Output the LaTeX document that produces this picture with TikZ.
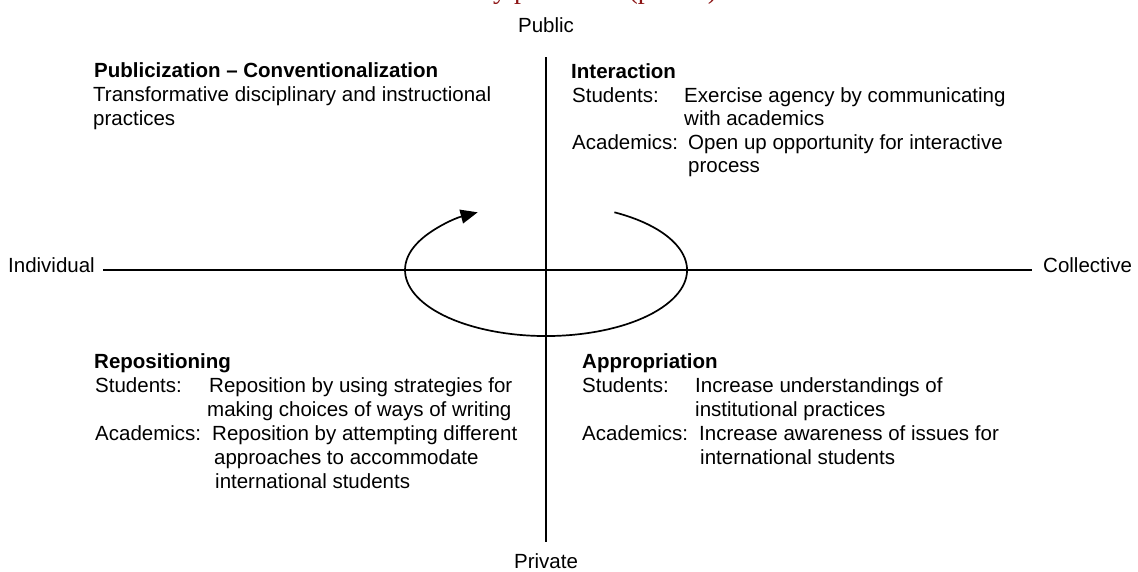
\documentclass[tikz,border=0pt]{standalone}
\usepackage{fontspec}
\setmainfont{Liberation Sans}
\newfontfamily\tnrfont{Liberation Serif}
\usetikzlibrary{arrows.meta}
\definecolor{capred}{RGB}{140,20,20}
\begin{document}
\begin{tikzpicture}[x=1pt,y=1pt,
  lbl/.style={inner sep=0pt, anchor=mid west, font=\fontsize{20.5}{24}\selectfont},
  hd/.style={lbl, font=\fontsize{20.5}{24}\selectfont\bfseries},
  axislab/.style={inner sep=0pt, font=\fontsize{20.5}{24}\selectfont},
  axisline/.style={line width=1.7pt},
  cyc/.style={line width=1.7pt, -{Triangle[length=17pt,width=14pt]}}]
\useasboundingbox (0,0) rectangle (1138,-571);
% clipped caption remnant at the top
\begin{scope}
\clip (0,0) rectangle (1138,-10);
\node[font=\tnrfont\fontsize{28}{30}\selectfont, text=capred, anchor=base west, inner sep=0pt] (cap) at (493,1.5) {y processes (p.~123)};
\end{scope}
% axis labels
\node[axislab] (pub) at (546,-25) {Public};
\node[axislab] (priv) at (546,-561) {Private};
\node[axislab, anchor=mid east] (ind) at (95,-270) {Individual};
\node[axislab, anchor=mid west] (col) at (1043,-270) {Collective};
% axes
\coordinate (hl) at (103,-270);
\coordinate (hr) at (1032,-270);
\coordinate (vt) at (546,-57);
\coordinate (vb) at (546,-542);
\draw[axisline] (hl) -- (hr);
\draw[axisline] (vt) -- (vb);
% cycle
\coordinate (cs) at (614.4,-212.3);
\draw[cyc] (cs) arc[start angle=61, end angle=-241, x radius=141, y radius=66];
% upper left
\node[hd] (ulh) at (94,-75) {Publicization – Conventionalization};
\node[lbl] (ul1) at (93,-99) {Transformative disciplinary and instructional};
\node[lbl] (ul2) at (93,-123) {practices};
% upper right
\node[hd] (urh) at (571,-76) {Interaction};
\node[lbl] (urs) at (572,-100) {Students:};
\node[lbl] (urs1) at (684,-100) {Exercise agency by communicating};
\node[lbl] (urs2) at (684,-123) {with academics};
\node[lbl] (ura) at (572,-147) {Academics:};
\node[lbl] (ura1) at (688,-147) {Open up opportunity for interactive};
\node[lbl] (ura2) at (688,-170) {process};
% lower left
\node[hd] (llh) at (94,-366) {Repositioning};
\node[lbl] (lls) at (95,-390) {Students:};
\node[lbl] (lls1) at (209,-390) {Reposition by using strategies for};
\node[lbl] (lls2) at (207,-414) {making choices of ways of writing};
\node[lbl] (lla) at (95,-438) {Academics:};
\node[lbl] (lla1) at (212,-438) {Reposition by attempting different};
\node[lbl] (lla2) at (214,-462) {approaches to accommodate};
\node[lbl] (lla3) at (215,-486) {international students};
% lower right
\node[hd] (lrh) at (582,-366) {Appropriation};
\node[lbl] (lrs) at (582,-390) {Students:};
\node[lbl] (lrs1) at (695,-390) {Increase understandings of};
\node[lbl] (lrs2) at (695,-414) {institutional practices};
\node[lbl] (lra) at (582,-438) {Academics:};
\node[lbl] (lra1) at (699,-438) {Increase awareness of issues for};
\node[lbl] (lra2) at (700,-462) {international students};
\end{tikzpicture}
\end{document}
